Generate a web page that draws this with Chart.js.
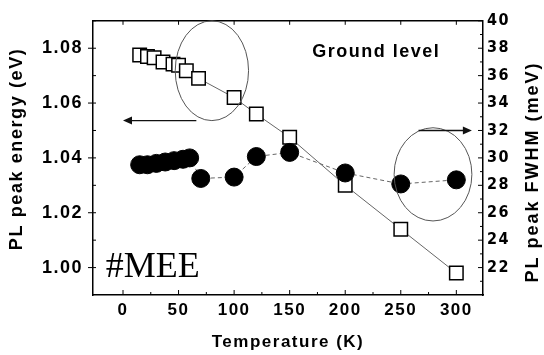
<!DOCTYPE html>
<html>
<head>
<meta charset="utf-8">
<script src="https://cdn.jsdelivr.net/npm/chart.js@4.4.1/dist/chart.umd.min.js"></script>
<style>
  html, body { margin: 0; padding: 0; background: #fff; }
  #wrap { width: 544px; height: 355px; }
</style>
</head>
<body>
<div id="wrap"><canvas id="plChart" width="544" height="355"></canvas></div>
<script>
// PL peak energy (open squares, left axis)
const squareTemps = [15, 22, 28, 36, 45, 50, 57, 68, 100, 120, 150, 200, 250, 300];
const peakEnergy = [1.0775, 1.0770, 1.0765, 1.0750, 1.0742, 1.0738, 1.0718, 1.0690, 1.0620, 1.0560, 1.0475, 1.0300, 1.0140, 0.9980];
// PL peak FWHM (filled circles, right axis)
const circleTemps = [15, 22, 30, 38, 46, 54, 60, 70, 100, 120, 150, 200, 250, 300];
const fwhm = [29.5, 29.5, 29.6, 29.7, 29.8, 29.9, 30.0, 28.5, 28.6, 30.1, 30.4, 28.9, 28.1, 28.4];

const tempTicks = [0, 50, 100, 150, 200, 250, 300];
const energyTicks = [1.00, 1.02, 1.04, 1.06, 1.08];
const fwhmTicks = [22, 24, 26, 28, 30, 32, 34, 36, 38, 40];

const sans = "'Liberation Sans', Arial, sans-serif";
const narrow = "'DejaVu Sans Condensed', 'Liberation Sans Narrow', " + sans;

function toTicks(list) {
  return list.map(v => ({ value: v }));
}

// scanned-looking lettering is a bit spread out
const spacing = {
  id: 'spacing',
  beforeUpdate(chart) { chart.ctx.letterSpacing = '1.5px'; },
  beforeDraw(chart) { chart.ctx.letterSpacing = '1.5px'; }
};

function arrow(ctx, x1, y1, x2, y2) {
  const ang = Math.atan2(y2 - y1, x2 - x1);
  ctx.beginPath();
  ctx.moveTo(x1, y1);
  ctx.lineTo(x2 - 6 * Math.cos(ang), y2 - 6 * Math.sin(ang));
  ctx.stroke();
  ctx.beginPath();
  ctx.moveTo(x2, y2);
  ctx.lineTo(x2 - 9 * Math.cos(ang) + 4 * Math.sin(ang), y2 - 9 * Math.sin(ang) - 4 * Math.cos(ang));
  ctx.lineTo(x2 - 9 * Math.cos(ang) - 4 * Math.sin(ang), y2 - 9 * Math.sin(ang) + 4 * Math.cos(ang));
  ctx.closePath();
  ctx.fill();
}

function sideTitle(ctx, text, cx, cy, gap) {
  ctx.save();
  ctx.letterSpacing = gap;
  ctx.font = 'bold 18px ' + sans;
  ctx.textAlign = 'center';
  ctx.textBaseline = 'middle';
  ctx.translate(cx, cy);
  ctx.rotate(-Math.PI / 2);
  ctx.fillText(text, 0, 0);
  ctx.restore();
}

const decorations = {
  id: 'decorations',
  afterDatasetsDraw(chart) {
    const { ctx, chartArea: a } = chart;
    const x = chart.scales.x, yE = chart.scales.yE, yW = chart.scales.yW;
    ctx.save();
    ctx.strokeStyle = '#000';
    ctx.fillStyle = '#000';

    // top frame line
    ctx.lineWidth = 1.5;
    ctx.beginPath();
    ctx.moveTo(a.left, a.top);
    ctx.lineTo(a.right, a.top);
    ctx.stroke();

    // inward ticks
    ctx.lineWidth = 1;
    ctx.beginPath();
    tempTicks.forEach(v => {
      const px = x.getPixelForValue(v);
      ctx.moveTo(px, a.bottom); ctx.lineTo(px, a.bottom - 5);
      ctx.moveTo(px, a.top); ctx.lineTo(px, a.top + 4);
      const mx = x.getPixelForValue(v + 25);
      if (mx < a.right) { ctx.moveTo(mx, a.bottom); ctx.lineTo(mx, a.bottom - 3); }
    });
    energyTicks.forEach(v => {
      const py = yE.getPixelForValue(v);
      ctx.moveTo(a.left - 5, py); ctx.lineTo(a.left + 3, py);
      const my = yE.getPixelForValue(v + 0.01);
      ctx.moveTo(a.left, my); ctx.lineTo(a.left + 3, my);
    });
    fwhmTicks.forEach(v => {
      const py = yW.getPixelForValue(v);
      ctx.moveTo(a.right, py); ctx.lineTo(a.right - 5, py);
      const my = yW.getPixelForValue(v - 1);
      ctx.moveTo(a.right, my); ctx.lineTo(a.right - 3, my);
    });
    ctx.stroke();

    // ellipses round the two groups
    ctx.strokeStyle = '#555';
    ctx.lineWidth = 1;
    const cx1 = x.getPixelForValue(80), cy1 = yE.getPixelForValue(1.0718);
    ctx.beginPath();
    ctx.ellipse(cx1, cy1, x.getPixelForValue(113) - cx1, cy1 - yE.getPixelForValue(1.0900), 0, 0, Math.PI * 2);
    ctx.stroke();
    const cx2 = x.getPixelForValue(279), cy2 = yW.getPixelForValue(28.8);
    ctx.beginPath();
    ctx.ellipse(cx2, cy2, x.getPixelForValue(314) - cx2, cy2 - yW.getPixelForValue(32.2), 0, 0, Math.PI * 2);
    ctx.stroke();

    // arrows pointing at the matching axis
    ctx.strokeStyle = '#111';
    ctx.fillStyle = '#111';
    ctx.lineWidth = 1.3;
    const ay1 = yE.getPixelForValue(1.0536);
    arrow(ctx, x.getPixelForValue(66), ay1, x.getPixelForValue(0), ay1);
    const ay2 = yW.getPixelForValue(32);
    arrow(ctx, x.getPixelForValue(266), ay2, x.getPixelForValue(314), ay2);

    // labels
    ctx.fillStyle = '#000';
    ctx.letterSpacing = '1.5px';
    ctx.font = 'bold 18px ' + sans;
    ctx.textAlign = 'center';
    ctx.textBaseline = 'middle';
    ctx.fillText('Ground level', x.getPixelForValue(228), yE.getPixelForValue(1.0786));

    ctx.letterSpacing = '0px';
    ctx.font = "36px 'Liberation Serif', 'Times New Roman', serif";
    ctx.textAlign = 'left';
    ctx.textBaseline = 'alphabetic';
    ctx.fillText('#MEE', x.getPixelForValue(-15.5), yE.getPixelForValue(0.9964));

    // axis titles on both sides read bottom to top
    const mid = (a.top + a.bottom) / 2;
    sideTitle(ctx, 'PL peak energy (eV)', 17, mid - 9, '1.6px');
    sideTitle(ctx, 'PL peak FWHM (meV)', 533, mid + 14, '2px');
    ctx.restore();
  }
};

new Chart(document.getElementById('plChart'), {
  type: 'line',
  data: {
    datasets: [
      {
        label: 'FWHM',
        data: circleTemps.map((t, i) => ({ x: t, y: fwhm[i] })),
        yAxisID: 'yW',
        borderColor: '#666',
        borderWidth: 1,
        borderDash: [4, 3],
        pointStyle: 'circle',
        pointRadius: 9,
        pointBackgroundColor: '#000',
        pointBorderColor: '#000',
        pointBorderWidth: 1
      },
      {
        label: 'Peak energy',
        data: squareTemps.map((t, i) => ({ x: t, y: peakEnergy[i] })),
        yAxisID: 'yE',
        borderColor: '#666',
        borderWidth: 1,
        pointStyle: 'rect',
        pointRadius: 9.5,
        pointBackgroundColor: '#fff',
        pointBorderColor: '#000',
        pointBorderWidth: 1.5
      }
    ]
  },
  options: {
    responsive: false,
    animation: false,
    devicePixelRatio: 1,
    layout: { padding: { top: 15, left: 0, right: 0, bottom: 0 } },
    plugins: {
      legend: { display: false },
      tooltip: { enabled: false }
    },
    scales: {
      x: {
        type: 'linear',
        min: -27,
        max: 324,
        afterBuildTicks: s => { s.ticks = toTicks(tempTicks); },
        afterFit: s => { s.height = 60; },
        grid: { display: false, drawTicks: false },
        border: { color: '#000', width: 1.5 },
        ticks: { color: '#000', padding: 5, font: { family: sans, size: 17, weight: 'bold' } },
        title: {
          display: true,
          text: 'Temperature (K)',
          color: '#000',
          padding: { top: 0, bottom: 2 },
          font: { family: sans, size: 17, weight: 'bold' }
        }
      },
      yE: {
        type: 'linear',
        position: 'left',
        min: 0.99,
        max: 1.09,
        afterBuildTicks: s => { s.ticks = toTicks(energyTicks); },
        afterFit: s => { s.width = 93; },
        grid: { display: false, drawTicks: false },
        border: { color: '#000', width: 1.5 },
        ticks: {
          color: '#000',
          padding: 10,
          font: { family: sans, size: 18, weight: 'bold' },
          callback: v => v.toFixed(2)
        }
      },
      yW: {
        type: 'linear',
        position: 'right',
        min: 20,
        max: 40,
        afterBuildTicks: s => { s.ticks = toTicks(fwhmTicks); },
        afterFit: s => { s.width = 61; },
        grid: { display: false, drawTicks: false },
        border: { color: '#000', width: 1.5 },
        ticks: { color: '#000', padding: 4, font: { family: narrow, size: 16, weight: 'bold' } }
      }
    }
  },
  plugins: [spacing, decorations]
});
</script>
</body>
</html>
